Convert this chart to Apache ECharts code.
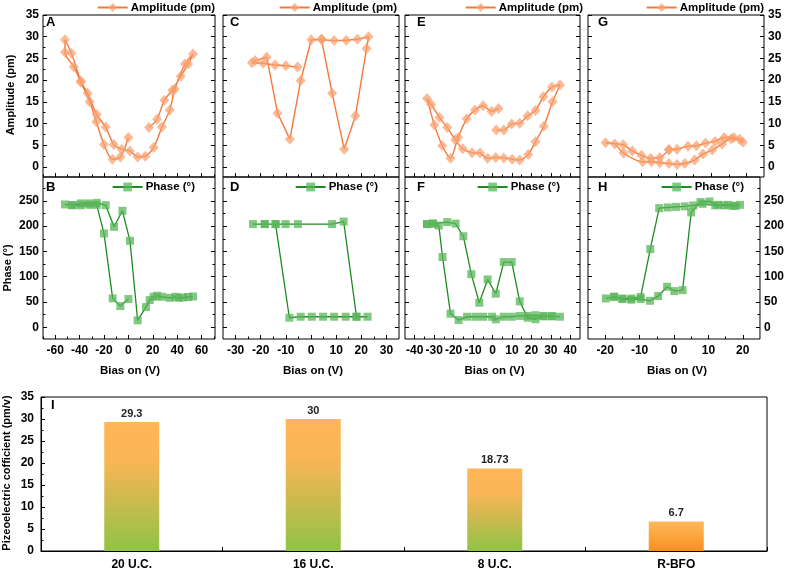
<!DOCTYPE html>
<html><head><meta charset="utf-8">
<script src="https://cdn.jsdelivr.net/npm/echarts@6/dist/echarts.min.js"></script>
<style>html,body{margin:0;padding:0;background:#fff}#c{width:787px;height:571px}</style>
</head><body><div id="c"></div>
<script>
// ---------- data ----------
const biasA = [16.9, 23.5, 29.5, 36, 42.9, 49, 53, 46.4, 38, 33.9, 27.5, 20.7, 13.9, 7.6, 1.3, -5.5, -12, -18.6, -26, -33.4, -39, -46.7, -52, -52, -44.8, -39, -31.7, -26.3, -20, -13.1, -6.6, 0];
const ampA  = [9.1, 11.0, 15.4, 17.7, 20.9, 23.7, 26.0, 23.7, 17.9, 13.1, 9.2, 4.5, 2.5, 2.3, 3.7, 4.1, 5.2, 9.2, 12.1, 17.0, 19.8, 26.2, 29.3, 26.4, 23.1, 19.6, 15.0, 10.4, 5.2, 1.8, 2.3, 6.8];
const biasB = [0, -6.6, -12.9, -20, -26, -31.7, -39, -45.9, -52, -45.9, -39.1, -32.8, -26, -18.6, -11.8, -4.9, 1.3, 7.6, 14.4, 17.5, 20.7, 23.5, 27.5, 33.9, 38.6, 41.3, 45, 49, 53];
const phaseB = [55.9, 42, 57.2, 185.5, 242, 242, 241, 241.4, 242.8, 241.4, 244.8, 244.8, 246, 241.4, 198.6, 230.2, 171, 13.8, 40, 53.9, 60.4, 62.4, 60.4, 58.4, 60.4, 58.4, 59, 60, 61];
const biasC = [4.1, 8.4, 13.2, 17.7, 22.1, 22.9, 18.5, 14, 9.2, 4.4, 0.1, -4.1, -8.4, -13.3, -17.6, -22.2, -23.5, -19, -14.3, -10, -5.3];
const ampC  = [29.5, 17.0, 4.1, 11.8, 27.3, 30.0, 29.4, 29.2, 29.1, 29.3, 29.3, 19.9, 6.4, 12.4, 25.3, 24.5, 24.0, 23.9, 23.5, 23.3, 23.0];
const biasD = [22.5, 18.1, 13.8, 9.2, 4.8, 0.3, -4.1, -8.6, -14.1, -18.4, -23.1, -18.4, -14.1, -10.1, -5.2, 8.4, 13, 18.1];
const phaseD = [21, 21, 21, 21, 21, 21, 21, 19, 204, 204, 204, 204, 204, 204, 204, 204, 209, 21];
const biasE = [1.9, 5.8, 9.9, 14, 18.1, 22.1, 26.2, 30.6, 34.7, 30.9, 26.4, 22.1, 18.4, 14, 10.1, 5.8, 1.7, -2.5, -6.4, -10.5, -15.3, -19.1, -23.3, -27.2, -31.5, -33.7, -29.9, -25.8, -21.6, -17.7, -13.3, -9.0, -4.8, -0.5, 3.1];
const ampE  = [8.5, 8.5, 9.9, 10.1, 11.8, 13.0, 16.2, 18.4, 18.9, 15.0, 9.4, 5.8, 2.9, 1.6, 1.8, 2.1, 2.2, 2.0, 3.2, 3.3, 4.2, 6.2, 9.1, 11.4, 14.4, 15.8, 9.7, 4.9, 2.0, 6.8, 11.1, 13.1, 14.1, 12.8, 13.5];
const biasF = [-33.7, -30.6, -27.6, -25.7, -21.6, -17.4, -13.1, -8.8, -4.8, -0.2, 1.7, 5.8, 9.9, 14, 18.1, 22.1, 26.2, 30.5, 34.7, 30.5, 26.2, 22.1, 18.1, 14, 9.9, 5.8, 1.7, -2.5, -6.8, -10.9, -15, -19, -23.3, -30.6, -33.7];
const phaseF = [204, 205, 201, 139, 27, 14.4, 21, 21, 21, 21, 15.8, 21, 21, 22.6, 22.6, 24, 22, 22, 21, 22, 22, 16, 19, 51.3, 129, 129, 66.4, 94.7, 48.6, 105, 180, 205, 208, 205, 204];
const biasG = [-2, 0.3, 3.4, 5.8, 8.4, 11.1, 13.7, 16.4, 19, 18.1, 15.7, 13.1, 10.3, 7.7, 5.3, 2.5, 0.3, -2, -4.6, -7, -9.5, -14.9, -17.4, -20, -15, -12.4, -9.8, -7.2, -4.6, -2];
const ampG  = [4.0, 4.1, 4.8, 4.9, 5.5, 5.9, 6.8, 6.8, 5.7, 6.4, 6.5, 5.3, 3.9, 3.0, 1.6, 0.8, 0.6, 0.8, 1.0, 1.2, 1.2, 3.2, 5.3, 5.6, 5.1, 3.7, 2.7, 2.0, 2.2, 4.0];
const biasH = [-19.8, -17.4, -15, -12.4, -9.7, -7, -4.6, -2, 0.1, 2.5, 5, 7.7, 10.3, 12.9, 15.7, 17.9, 19.2, 17, 14.5, 12, 8.3, 5.6, 3.1, 0.6, -1.8, -4.3, -6.9, -9.7, -12.4, -15, -17.4];
const phaseH = [57.2, 60.4, 55.9, 54.6, 55.9, 52.5, 61.8, 80.2, 71.7, 73.6, 227, 247.4, 248.7, 242, 242, 240, 242, 240, 241, 241, 244, 240.8, 239, 238, 236.9, 235.5, 154.6, 60, 57, 57, 60.4];

const categories = ['20 U.C.', '16 U.C.', '8 U.C.', 'R-BFO'];
const coeffValues = [29.3, 30, 18.73, 6.7];

// tick positions / labels
const ampTicks = [0, 5, 10, 15, 20, 25, 30, 35];
const ampMinor = [2.5, 7.5, 12.5, 17.5, 22.5, 27.5, 32.5];
const phaseTicks = [0, 50, 100, 150, 200, 250];
const phaseMinor = [25, 75, 125, 175, 225, 275];
const biasTicksAB = [-60, -40, -20, 0, 20, 40, 60];
const biasMinorAB = [-70, -50, -30, -10, 10, 30, 50, 70];
const biasTicksCD = [-30, -20, -10, 0, 10, 20, 30];
const biasMinorCD = [-25, -15, -5, 5, 15, 25];
const biasTicksEF = [-40, -30, -20, -10, 0, 10, 20, 30, 40];
const biasMinorEF = [-35, -25, -15, -5, 5, 15, 25, 35];
const biasTicksGH = [-20, -10, 0, 10, 20];
const biasMinorGH = [-15, -5, 5, 15];
const coeffTicks = [0, 5, 10, 15, 20, 25, 30, 35];

// ---------- layout ----------
const FONT = '"Liberation Sans", Arial, Helvetica, sans-serif';
const AMP_LINE = '#F4783A', AMP_FILL = 'rgba(250,160,110,0.72)';
const PH_LINE = '#1E8A22', PH_FILL = 'rgba(88,182,88,0.75)';

const cols = [
  {left: 43, width: 172, xr: [-70, 71], xt: biasTicksAB, xm: biasMinorAB, letters: ['A', 'B'], lx: 46, ampR: 572, phR: 592, yl: true, yr: false},
  {left: 223, width: 176, xr: [-35, 35], xt: biasTicksCD, xm: biasMinorCD, letters: ['C', 'D'], lx: 230, ampR: 390, phR: 409, yl: false, yr: false},
  {left: 405, width: 175, xr: [-45, 45], xt: biasTicksEF, xm: biasMinorEF, letters: ['E', 'F'], lx: 417, ampR: 204, phR: 227, yl: false, yr: false},
  {left: 588, width: 176, xr: [-25, 25], xt: biasTicksGH, xm: biasMinorGH, letters: ['G', 'H'], lx: 598, ampR: 23, phR: 43, yl: false, yr: true}
];
const ampData = [[biasA, ampA, 0.3], [biasC, ampC, 0], [biasE, ampE, 0.25], [biasG, ampG, 0.3]];
const phData = [[biasB, phaseB], [biasD, phaseD], [biasF, phaseF], [biasH, phaseH]];

const grids = [], xAxes = [], yAxes = [], series = [], legends = [], graphics = [];
const lblStyle = {fontFamily: FONT, fontWeight: 'bold', fontSize: 12, color: '#000'};
const tickLine = {color: '#000', width: 1};

function addPanel(col, kind, ci) {
  const gi = grids.length;
  const top = kind === 'amp' ? 15 : 177;
  grids.push({left: col.left, top: top, width: col.width, height: 162, show: true,
    borderColor: '#000', borderWidth: 1, backgroundColor: 'transparent', containLabel: false});
  const yr = kind === 'amp' ? [-2.3, 35] : [-23, 297];
  const yt = kind === 'amp' ? ampTicks : phaseTicks;
  const ym = kind === 'amp' ? ampMinor : phaseMinor;
  const base = {gridIndex: gi, type: 'value', splitLine: {show: false}, axisLine: {show: false, onZero: false}};
  const xi = xAxes.length;
  xAxes.push(Object.assign({}, base, {min: col.xr[0], max: col.xr[1], position: 'bottom',
    axisTick: {show: true, inside: true, length: 4, customValues: col.xt, lineStyle: tickLine},
    axisLabel: Object.assign({show: kind === 'phase', customValues: col.xt, margin: 6}, lblStyle)}));
  xAxes.push(Object.assign({}, base, {min: col.xr[0], max: col.xr[1], position: 'bottom',
    axisTick: {show: true, inside: true, length: 2.5, customValues: col.xm, lineStyle: tickLine},
    axisLabel: {show: false}}));
  const yi = yAxes.length;
  yAxes.push(Object.assign({}, base, {min: yr[0], max: yr[1], position: 'left',
    axisTick: {show: true, inside: true, length: 4, customValues: yt, lineStyle: tickLine},
    axisLabel: Object.assign({show: col.yl, customValues: yt, margin: 4}, lblStyle)}));
  yAxes.push(Object.assign({}, base, {min: yr[0], max: yr[1], position: 'left',
    axisTick: {show: true, inside: true, length: 2.5, customValues: ym, lineStyle: tickLine},
    axisLabel: {show: false}}));
  yAxes.push(Object.assign({}, base, {min: yr[0], max: yr[1], position: 'right',
    axisTick: {show: true, inside: true, length: 4, customValues: yt, lineStyle: tickLine},
    axisLabel: Object.assign({show: col.yr, customValues: yt, margin: 4}, lblStyle)}));
  yAxes.push(Object.assign({}, base, {min: yr[0], max: yr[1], position: 'right',
    axisTick: {show: true, inside: true, length: 2.5, customValues: ym, lineStyle: tickLine},
    axisLabel: {show: false}}));

  if (kind === 'amp') {
    const d = ampData[ci];
    series.push({type: 'line', name: 'Amplitude (pm)', xAxisIndex: xi, yAxisIndex: yi,
      data: d[0].map((b, k) => [b, d[1][k]]), smooth: d[2] || false,
      symbol: 'diamond', symbolSize: [10, 11], showSymbol: true,
      itemStyle: {color: AMP_FILL}, lineStyle: {color: AMP_LINE, width: 1.4}, z: 3});
    legends.push({data: ['Amplitude (pm)'], right: col.ampR, top: 1.5, padding: 0,
      itemWidth: 30, itemHeight: 11, itemGap: 0, selectedMode: false,
      textStyle: {fontFamily: FONT, fontWeight: 'bold', fontSize: 11.5, color: '#000', padding: [0, 0, 0, -2]}});
  } else {
    const d = phData[ci];
    series.push({type: 'line', name: 'Phase (°)', xAxisIndex: xi, yAxisIndex: yi,
      data: d[0].map((b, k) => [b, d[1][k]]), smooth: false,
      symbol: 'rect', symbolSize: 8, showSymbol: true,
      itemStyle: {color: PH_FILL}, lineStyle: {color: PH_LINE, width: 1.3}, z: 3});
    legends.push({data: ['Phase (°)'], right: col.phR, top: 181, padding: 0,
      itemWidth: 30, itemHeight: 11, itemGap: 0, selectedMode: false,
      textStyle: {fontFamily: FONT, fontWeight: 'bold', fontSize: 11.5, color: '#000', padding: [0, 0, 0, -2]}});
  }
}

cols.forEach((col, ci) => {
  addPanel(col, 'amp', ci);
  addPanel(col, 'phase', ci);
  graphics.push({type: 'text', x: col.lx, y: 22.5, style: {text: col.letters[0], font: 'bold 13px ' + FONT, fill: '#000', align: 'left', verticalAlign: 'middle'}});
  graphics.push({type: 'text', x: col.lx, y: 187, style: {text: col.letters[1], font: 'bold 13px ' + FONT, fill: '#000', align: 'left', verticalAlign: 'middle'}});
  graphics.push({type: 'text', x: col.left + col.width / 2 + (ci === 0 ? 1 : ci === 3 ? 1 : 2), y: 371, style: {text: 'Bias on (V)', font: 'bold 11.5px ' + FONT, fill: '#000', align: 'center', verticalAlign: 'middle'}});
});

// vertical axis titles
graphics.push({type: 'text', x: 11, y: 95, rotation: Math.PI / 2, style: {text: 'Amplitude (pm)', font: 'bold 11px ' + FONT, fill: '#000', align: 'center', verticalAlign: 'middle'}});
graphics.push({type: 'text', x: 8, y: 268, rotation: Math.PI / 2, style: {text: 'Phase (°)', font: 'bold 11px ' + FONT, fill: '#000', align: 'center', verticalAlign: 'middle'}});
graphics.push({type: 'text', x: 7, y: 473, rotation: Math.PI / 2, style: {text: 'Pizeoelectric cofficient (pm/v)', font: 'bold 11px ' + FONT, fill: '#000', align: 'center', verticalAlign: 'middle'}});
graphics.push({type: 'text', x: 51, y: 405, style: {text: 'I', font: 'bold 13px ' + FONT, fill: '#000', align: 'left', verticalAlign: 'middle'}});

// ---------- bar chart ----------
const bgi = grids.length;
grids.push({left: 41, top: 397, width: 726, height: 154.5, show: true, borderColor: '#000', borderWidth: 1, backgroundColor: 'transparent'});
const bxi = xAxes.length;
xAxes.push({gridIndex: bgi, type: 'category', data: categories, position: 'bottom',
  axisLine: {show: true, onZero: false, lineStyle: {color: '#000', width: 1}},
  axisTick: {show: true, alignWithLabel: true, inside: true, length: 8, lineStyle: tickLine},
  axisLabel: Object.assign({margin: 8}, lblStyle)});
xAxes.push({gridIndex: bgi, type: 'category', data: categories, position: 'bottom',
  axisLine: {show: false, onZero: false},
  axisTick: {show: true, inside: true, length: 4, lineStyle: tickLine},
  axisLabel: {show: false}});
const byi = yAxes.length;
yAxes.push({gridIndex: bgi, type: 'value', min: 0, max: 35, interval: 5, position: 'left',
  axisLine: {show: true, onZero: false, lineStyle: {color: '#000', width: 1}},
  axisTick: {show: true, inside: true, length: 4, lineStyle: tickLine},
  minorTick: {show: true, splitNumber: 2, length: 2.5, lineStyle: tickLine},
  splitLine: {show: false},
  axisLabel: Object.assign({margin: 7, customValues: coeffTicks}, lblStyle)});

function barColor(k) {
  if (k < 3) {
    return new echarts.graphic.LinearGradient(0, 0, 0, 1, [
      {offset: 0, color: '#FFB657'}, {offset: 0.3, color: '#F9B556'},
      {offset: 0.65, color: '#C6BB4E'}, {offset: 1, color: '#8EC445'}]);
  }
  return new echarts.graphic.LinearGradient(0, 0, 0, 1, [
    {offset: 0, color: '#FFB95C'}, {offset: 1, color: '#F8901E'}]);
}
series.push({type: 'bar', xAxisIndex: bxi, yAxisIndex: byi, barWidth: 55,
  data: coeffValues.map((v, k) => ({value: v, itemStyle: {color: barColor(k)}})),
  label: {show: true, position: 'top', distance: 3, fontFamily: FONT, fontWeight: 'bold', fontSize: 11, color: '#222'}});

const chart = echarts.init(document.getElementById('c'), null, {renderer: 'canvas'});
chart.setOption({
  animation: false,
  backgroundColor: '#fff',
  grid: grids, xAxis: xAxes, yAxis: yAxes, series: series, legend: legends,
  graphic: graphics
});
</script></body></html>
